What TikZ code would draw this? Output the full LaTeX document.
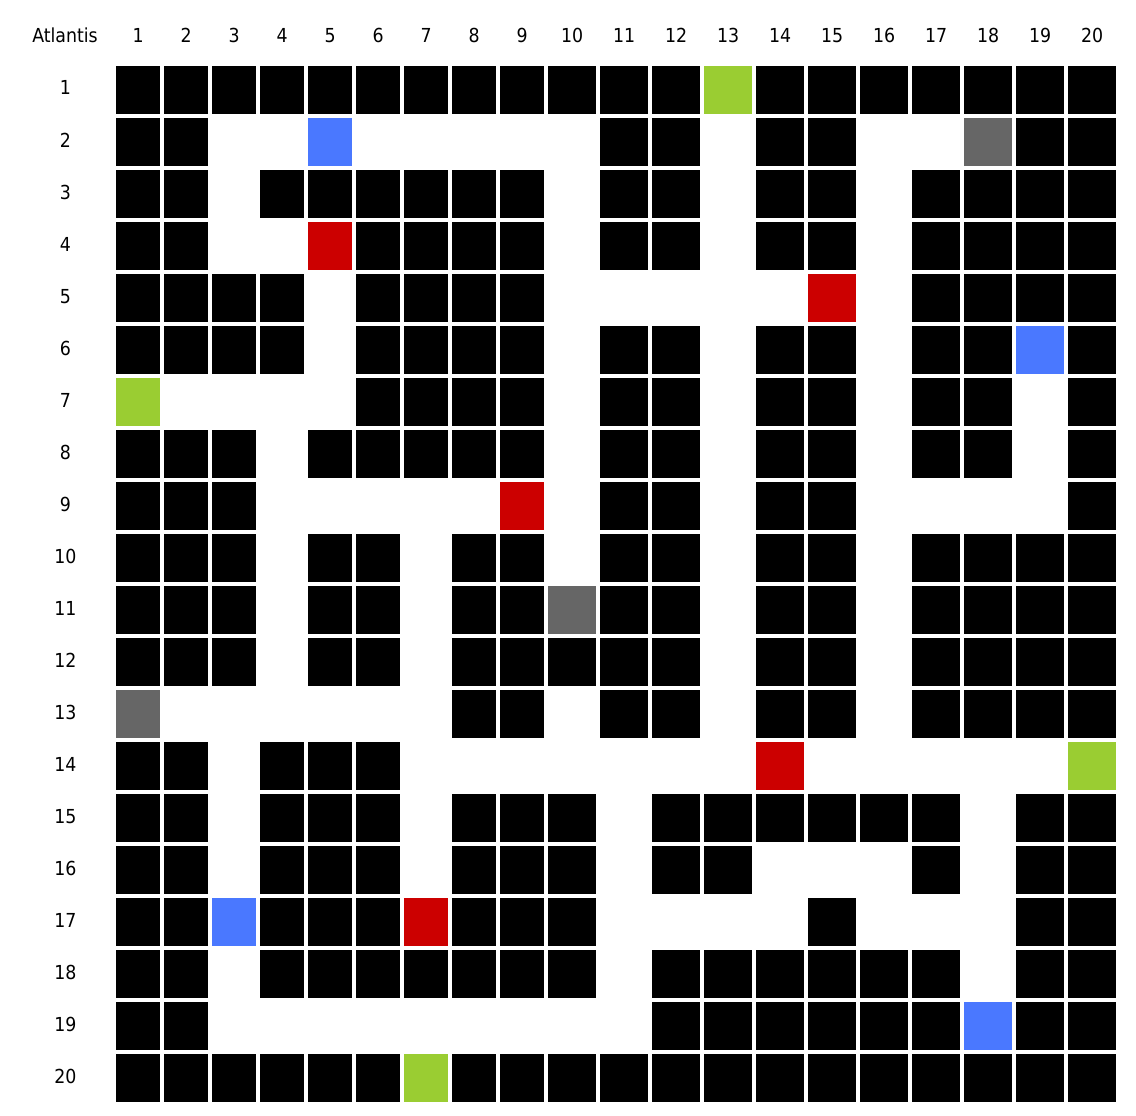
\documentclass[tikz,border=0pt]{standalone}
\usepackage{fontspec}
\setmainfont{DejaVuSansCondensed.ttf}
\definecolor{colB}{HTML}{000000}
\definecolor{colW}{HTML}{FFFFFF}
\definecolor{colG}{HTML}{9ACD32}
\definecolor{colU}{HTML}{4A78FF}
\definecolor{colR}{HTML}{CC0000}
\definecolor{colD}{HTML}{666666}
\begin{document}
\begin{tikzpicture}[x=1pt,y=-1pt,
  lab/.style={font=\fontsize{19.3}{20}\selectfont, inner sep=0pt, anchor=base}]
\fill[white] (0,0) rectangle (1136,1116);
\useasboundingbox (0,0) rectangle (1136,1116);
\node[lab] (atl) at (65,43) {Atlantis};
\foreach \c in {1,...,20}{
  \pgfmathsetmacro{\x}{\c<10 ? 116+48*(\c-1)+22.2 : 548+52*(\c-10)+24.2}
  \node[lab] (h\c) at (\x,43) {\c};
}
\foreach \r in {1,...,20}{
  \pgfmathsetmacro{\y}{66+52*(\r-1)+29}
  \node[lab] (r\r) at (65.5,\y) {\r};
}
\foreach \row [count=\r] in {
{B,B,B,B,B,B,B,B,B,B,B,B,G,B,B,B,B,B,B,B},
{B,B,W,W,U,W,W,W,W,W,B,B,W,B,B,W,W,D,B,B},
{B,B,W,B,B,B,B,B,B,W,B,B,W,B,B,W,B,B,B,B},
{B,B,W,W,R,B,B,B,B,W,B,B,W,B,B,W,B,B,B,B},
{B,B,B,B,W,B,B,B,B,W,W,W,W,W,R,W,B,B,B,B},
{B,B,B,B,W,B,B,B,B,W,B,B,W,B,B,W,B,B,U,B},
{G,W,W,W,W,B,B,B,B,W,B,B,W,B,B,W,B,B,W,B},
{B,B,B,W,B,B,B,B,B,W,B,B,W,B,B,W,B,B,W,B},
{B,B,B,W,W,W,W,W,R,W,B,B,W,B,B,W,W,W,W,B},
{B,B,B,W,B,B,W,B,B,W,B,B,W,B,B,W,B,B,B,B},
{B,B,B,W,B,B,W,B,B,D,B,B,W,B,B,W,B,B,B,B},
{B,B,B,W,B,B,W,B,B,B,B,B,W,B,B,W,B,B,B,B},
{D,W,W,W,W,W,W,B,B,W,B,B,W,B,B,W,B,B,B,B},
{B,B,W,B,B,B,W,W,W,W,W,W,W,R,W,W,W,W,W,G},
{B,B,W,B,B,B,W,B,B,B,W,B,B,B,B,B,B,W,B,B},
{B,B,W,B,B,B,W,B,B,B,W,B,B,W,W,W,B,W,B,B},
{B,B,U,B,B,B,R,B,B,B,W,W,W,W,B,W,W,W,B,B},
{B,B,W,B,B,B,B,B,B,B,W,B,B,B,B,B,B,W,B,B},
{B,B,W,W,W,W,W,W,W,W,W,B,B,B,B,B,B,U,B,B},
{B,B,B,B,B,B,G,B,B,B,B,B,B,B,B,B,B,B,B,B}}{
  \foreach \v [count=\c] in \row {
    \pgfmathsetmacro{\x}{\c<10 ? 116+48*(\c-1) : 548+52*(\c-10)}
    \pgfmathsetmacro{\w}{\c<10 ? 44.4 : 48.4}
    \pgfmathsetmacro{\y}{66+52*(\r-1)}
    \fill[fill=col\v] (\x,\y) rectangle ++(\w,48.4);
  }
}
\end{tikzpicture}
\end{document}
